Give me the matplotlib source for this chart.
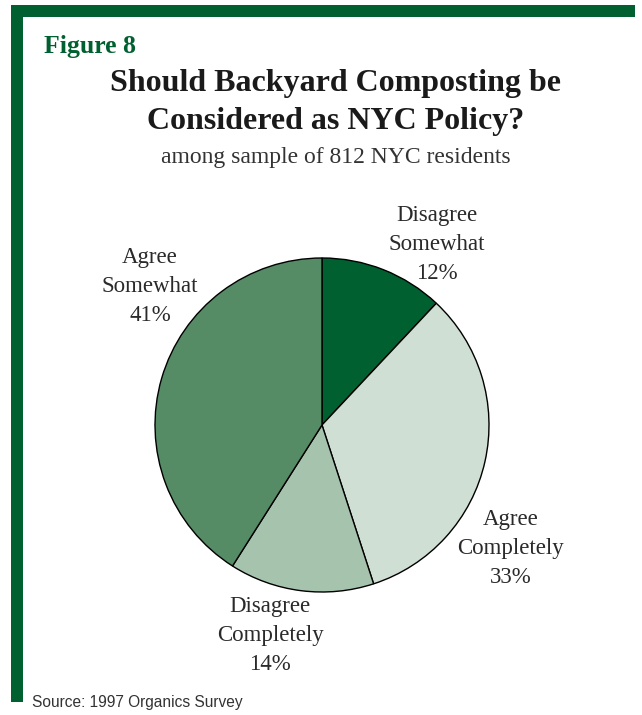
import matplotlib.pyplot as plt
import matplotlib.patches as mpatches

categories = ["Disagree\nSomewhat", "Agree\nCompletely", "Disagree\nCompletely", "Agree\nSomewhat"]
shares = [12, 33, 14, 41]
colors = ["#00602f", "#d0dfd3", "#a6c4ad", "#568c65"]
# label centres, in units of the pie radius
label_xy = [(0.69, 1.08), (1.13, -0.74), (-0.31, -1.26), (-1.03, 0.83)]

W, H = 642, 715
fig = plt.figure(figsize=(W / 100, H / 100), dpi=100)
fig.patch.set_facecolor("white")

green = "#00602f"
# frame: bar across the top and down the left side
fig.add_artist(mpatches.Rectangle((11 / W, 1 - 17 / H), 624 / W, 12 / H,
                                  transform=fig.transFigure, color=green, lw=0))
fig.add_artist(mpatches.Rectangle((11 / W, 1 - 702 / H), 12 / W, 697 / H,
                                  transform=fig.transFigure, color=green, lw=0))

serif = ["Liberation Serif", "DejaVu Serif"]
fig.text(44 / W, 1 - 47 / H, "Figure 8", family=serif, weight="bold",
         fontsize=18.5, color=green, ha="left", va="center")
fig.text(336 / W, 1 - 84 / H, "Should Backyard Composting be", family=serif,
         weight="bold", fontsize=23, color="#1a1a1a", ha="center", va="center")
fig.text(336 / W, 1 - 121 / H, "Considered as NYC Policy?", family=serif,
         weight="bold", fontsize=23, color="#1a1a1a", ha="center", va="center")
fig.text(336 / W, 1 - 157 / H, "among sample of 812 NYC residents", family=serif,
         fontsize=17, color="#333333", ha="center", va="center")
fig.text(32 / W, 1 - 703 / H, "Source: 1997 Organics Survey",
         family=["Liberation Sans", "DejaVu Sans"], fontsize=11.2,
         color="#333333", ha="left", va="center")

cx, cy, r = 322, 425, 167
ax = fig.add_axes([(cx - r) / W, 1 - (cy + r) / H, 2 * r / W, 2 * r / H])
ax.pie(shares, colors=colors, startangle=90, counterclock=False,
       wedgeprops=dict(edgecolor="black", linewidth=1))
ax.set_xlim(-1, 1)
ax.set_ylim(-1, 1)
ax.set_aspect("equal")
ax.axis("off")

for name, val, (x, y) in zip(categories, shares, label_xy):
    ax.text(x, y, f"{name}\n{val}%", family=serif, fontsize=16.5,
            color="#2a2a2a", ha="center", va="center", linespacing=1.48,
            clip_on=False)

plt.savefig("out.png", dpi=100)
